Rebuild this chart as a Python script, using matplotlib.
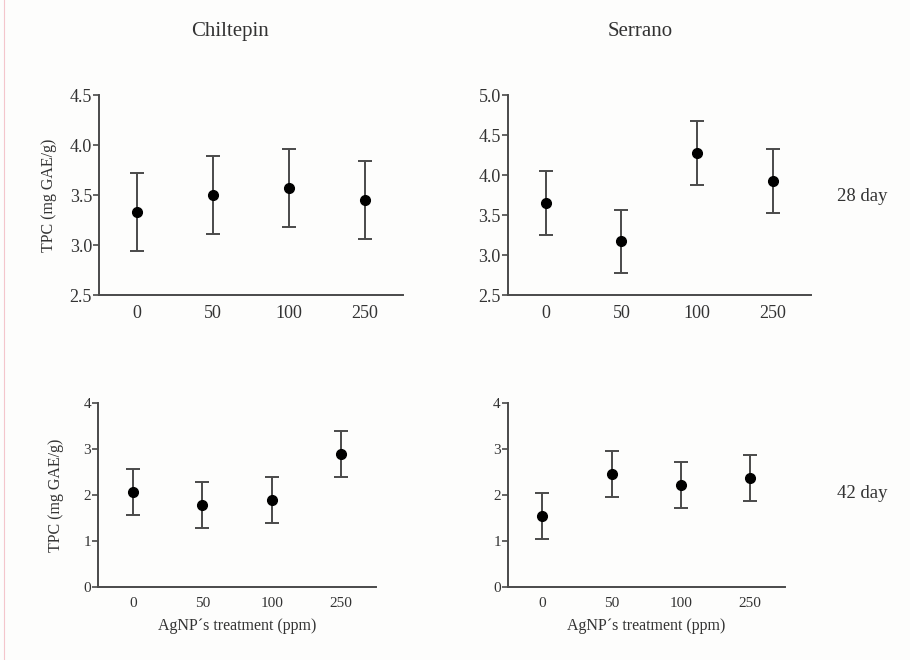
import matplotlib.pyplot as plt
from matplotlib.lines import Line2D

plt.rcParams['font.family'] = ['Liberation Serif', 'DejaVu Serif']

# Data
treatments = ["0", "50", "100", "250"]

chil_28 = [3.33, 3.50, 3.57, 3.45]
chil_28_err = [0.39, 0.39, 0.39, 0.39]
serr_28 = [3.65, 3.17, 4.28, 3.93]
serr_28_err = [0.40, 0.39, 0.40, 0.40]

chil_42 = [2.07, 1.78, 1.90, 2.90]
chil_42_err = [0.50, 0.50, 0.50, 0.50]
serr_42 = [1.55, 2.45, 2.21, 2.38]
serr_42_err = [0.50, 0.50, 0.50, 0.50]

ink = "#333333"
line_col = "#4a4a4a"

fig = plt.figure(figsize=(9.1, 6.6), dpi=100)
fig.patch.set_facecolor("#fdfdfc")

ax1 = fig.add_axes([0.1088, 0.553, 0.334, 0.303])
ax2 = fig.add_axes([0.558, 0.553, 0.333, 0.303])
ax3 = fig.add_axes([0.1077, 0.1106, 0.3055, 0.2788])
ax4 = fig.add_axes([0.558, 0.1106, 0.3044, 0.2788])

panels = [
    (ax1, chil_28, chil_28_err, (2.5, 4.5), [2.5, 3.0, 3.5, 4.0, 4.5], 13),
    (ax2, serr_28, serr_28_err, (2.5, 5.0), [2.5, 3.0, 3.5, 4.0, 4.5, 5.0], 13),
    (ax3, chil_42, chil_42_err, (0, 4), [0, 1, 2, 3, 4], 11),
    (ax4, serr_42, serr_42_err, (0, 4), [0, 1, 2, 3, 4], 11),
]

for ax, vals, errs, ylim, yticks, fs in panels:
    ax.set_facecolor("none")
    ax.errorbar(range(len(treatments)), vals, yerr=errs, fmt="o",
                color="black", ecolor=line_col, elinewidth=1.4,
                capsize=5, capthick=1.4, markersize=7, zorder=3)
    ax.set_xlim(-0.5, 3.5)
    ax.set_ylim(*ylim)
    ax.set_yticks(yticks)
    if ylim[0] == 2.5:
        ax.set_yticklabels([f"{t:.1f}" for t in yticks])
    ax.set_xticks(range(len(treatments)))
    ax.set_xticklabels(treatments)
    ax.spines["top"].set_visible(False)
    ax.spines["right"].set_visible(False)
    for s in ["left", "bottom"]:
        ax.spines[s].set_color(line_col)
        ax.spines[s].set_linewidth(1.4)
    ax.tick_params(axis="y", length=4, width=1.2, color=line_col,
                   labelsize=fs, labelcolor=ink, pad=1)
    ax.tick_params(axis="x", length=0, labelsize=fs, labelcolor=ink, pad=7)

ax1.set_ylabel("TPC (mg GAE/g)", fontsize=11.5, color=ink, labelpad=9)
ax3.set_ylabel("TPC (mg GAE/g)", fontsize=11.5, color=ink, labelpad=14)
ax3.set_xlabel("AgNP\u00b4s treatment (ppm)", fontsize=11.5, color=ink, labelpad=6)
ax4.set_xlabel("AgNP\u00b4s treatment (ppm)", fontsize=11.5, color=ink, labelpad=6)

fig.text(0.253, 0.952, "Chiltepin", fontsize=15, color=ink, ha="center", va="center")
fig.text(0.703, 0.952, "Serrano", fontsize=15, color=ink, ha="center", va="center")
fig.text(0.92, 0.703, "28 day", fontsize=13.5, color=ink, ha="left", va="center")
fig.text(0.92, 0.252, "42 day", fontsize=13.5, color=ink, ha="left", va="center")

# faint pink border line on the left
fig.add_artist(Line2D([0.0045, 0.0045], [0, 1], transform=fig.transFigure,
                      color="#f4c6cc", linewidth=0.8))

fig.savefig("out.png", dpi=100, facecolor=fig.get_facecolor())
